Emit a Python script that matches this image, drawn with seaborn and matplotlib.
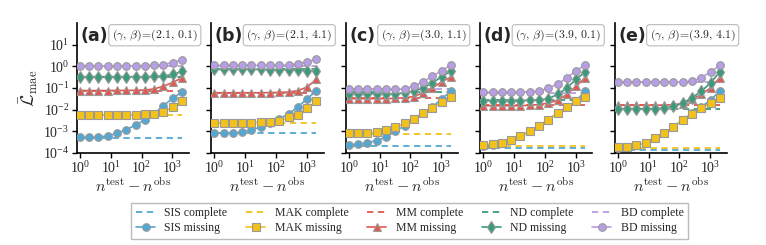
import numpy as np
import pandas as pd
import matplotlib
matplotlib.use('Agg')
import matplotlib.pyplot as plt
import seaborn as sns

sns.set_theme(style='ticks')
plt.rcParams['font.family'] = ['Liberation Serif', 'DejaVu Serif']
plt.rcParams['mathtext.fontset'] = 'cm'

# x: n_test - n_obs
n_diff = [1, 2, 4, 8, 16, 32, 64, 128, 256, 512, 1024, 2048]
panels = ['(a)', '(b)', '(c)', '(d)', '(e)']
params = ['(2.1,\\, 0.1)', '(2.1,\\, 4.1)', '(3.0,\\, 1.1)', '(3.9,\\, 0.1)', '(3.9,\\, 4.1)']
methods = ['SIS', 'MAK', 'MM', 'ND', 'BD']

# missing-edge results, one list per panel
sis_missing = [
    [0.00052, 0.00053, 0.00055, 0.0006, 0.0008, 0.0012, 0.0019, 0.0034, 0.0065, 0.015, 0.033, 0.066],
    [0.00082, 0.00082, 0.00083, 0.0009, 0.0012, 0.0015, 0.0024, 0.0038, 0.0063, 0.013, 0.032, 0.071],
    [0.00024, 0.00025, 0.0003, 0.00037, 0.00053, 0.001, 0.0018, 0.0037, 0.007, 0.013, 0.031, 0.07],
    [0.0002, 0.00022, 0.00028, 0.0004, 0.00058, 0.001, 0.0018, 0.0034, 0.007, 0.013, 0.026, 0.07],
    [0.00016, 0.00018, 0.00022, 0.0003, 0.00048, 0.0008, 0.0016, 0.0034, 0.0068, 0.013, 0.028, 0.07],
]
mak_missing = [
    [0.0055, 0.0055, 0.0055, 0.0055, 0.0055, 0.0056, 0.0057, 0.006, 0.0065, 0.008, 0.013, 0.026],
    [0.0024, 0.0024, 0.0024, 0.0024, 0.0025, 0.0026, 0.0027, 0.003, 0.0044, 0.0058, 0.012, 0.024],
    [0.0008, 0.0008, 0.00085, 0.0009, 0.0011, 0.0015, 0.0023, 0.0038, 0.0068, 0.012, 0.022, 0.038],
    [0.00024, 0.00026, 0.0003, 0.0004, 0.00058, 0.001, 0.0018, 0.0034, 0.007, 0.013, 0.024, 0.039],
    [0.00018, 0.00019, 0.00022, 0.0003, 0.00048, 0.0008, 0.0016, 0.0034, 0.0065, 0.012, 0.02, 0.035],
]
mm_missing = [
    [0.076, 0.076, 0.076, 0.076, 0.077, 0.077, 0.078, 0.08, 0.09, 0.12, 0.18, 0.29],
    [0.06, 0.06, 0.06, 0.06, 0.06, 0.06, 0.061, 0.062, 0.065, 0.075, 0.11, 0.25],
    [0.032, 0.032, 0.032, 0.032, 0.032, 0.033, 0.035, 0.04, 0.06, 0.1, 0.19, 0.32],
    [0.015, 0.015, 0.015, 0.015, 0.015, 0.016, 0.017, 0.02, 0.027, 0.05, 0.12, 0.3],
    [0.016, 0.016, 0.016, 0.016, 0.016, 0.016, 0.017, 0.019, 0.03, 0.05, 0.1, 0.3],
]
nd_missing = [
    [0.33, 0.33, 0.33, 0.33, 0.33, 0.33, 0.33, 0.33, 0.34, 0.36, 0.42, 0.58],
    [0.72, 0.72, 0.72, 0.72, 0.72, 0.72, 0.71, 0.7, 0.69, 0.66, 0.62, 0.58],
    [0.054, 0.054, 0.054, 0.054, 0.054, 0.055, 0.058, 0.07, 0.1, 0.17, 0.33, 0.6],
    [0.026, 0.026, 0.026, 0.026, 0.026, 0.027, 0.028, 0.032, 0.05, 0.1, 0.25, 0.55],
    [0.011, 0.011, 0.011, 0.011, 0.011, 0.012, 0.014, 0.02, 0.035, 0.07, 0.17, 0.55],
]
bd_missing = [
    [1.05, 1.05, 1.05, 1.05, 1.05, 1.05, 1.05, 1.06, 1.1, 1.2, 1.5, 2.0],
    [1.1, 1.1, 1.1, 1.1, 1.1, 1.1, 1.1, 1.1, 1.15, 1.3, 1.6, 2.1],
    [0.085, 0.085, 0.085, 0.085, 0.085, 0.086, 0.09, 0.12, 0.19, 0.35, 0.62, 1.15],
    [0.065, 0.065, 0.065, 0.065, 0.065, 0.066, 0.07, 0.1, 0.145, 0.3, 0.6, 1.2],
    [0.19, 0.19, 0.19, 0.19, 0.19, 0.19, 0.19, 0.19, 0.2, 0.3, 0.55, 1.1],
]
# complete-graph baselines, one value per panel
sis_complete = [0.0005, 0.00082, 0.0002, 0.00017, 0.00014]
mak_complete = [0.0055, 0.0024, 0.00077, 0.00021, 0.00016]
mm_complete = [0.076, 0.06, 0.034, 0.016, 0.016]
nd_complete = [0.32, 0.72, 0.062, 0.028, 0.011]
bd_complete = [1.0, 1.0, 0.09, 0.06, 0.19]

missing = [sis_missing, mak_missing, mm_missing, nd_missing, bd_missing]
complete = [sis_complete, mak_complete, mm_complete, nd_complete, bd_complete]
colors = ['#52a8d2', '#f2c21b', '#e2584f', '#3a9b7b', '#b89ee6']
markers = ['o', 's', '^', 'd', 'o']

fig, axes = plt.subplots(1, 5, figsize=(7.66, 2.45), dpi=100, sharey=True)
fig.subplots_adjust(left=0.1005, right=0.949, bottom=0.376, top=0.906, wspace=0.2)

for p, ax in enumerate(axes):
    for m in range(5):
        df = pd.DataFrame({'x': n_diff, 'y': [complete[m][p]] * len(n_diff)})
        sns.lineplot(data=df, x='x', y='y', ax=ax, color=colors[m], lw=1.3,
                     linestyle=(0, (3.5, 2.5)), zorder=2,
                     label=f'{methods[m]} complete' if p == 0 else None)
        df = pd.DataFrame({'x': n_diff, 'y': missing[m][p]})
        sns.lineplot(data=df, x='x', y='y', ax=ax, color=colors[m], lw=1.2,
                     marker=markers[m], markersize=5.5 if markers[m] != 'd' else 6.5,
                     markeredgecolor='#999999', markeredgewidth=0.8, zorder=3,
                     label=f'{methods[m]} missing' if p == 0 else None)
    ax.set_xscale('log')
    ax.set_yscale('log')
    ax.set_xlim(0.8, 3500)
    ax.set_ylim(1e-4, 1e2)
    ax.set_xticks([1, 10, 100, 1000])
    ax.set_yticks([1e-4, 1e-3, 1e-2, 1e-1, 1, 10])
    ax.minorticks_off()
    ax.tick_params(axis='both', labelsize=10, length=3.5, width=1, color='black',
                   direction='out', pad=2)
    for s in ['left', 'bottom']:
        ax.spines[s].set_linewidth(1.2)
        ax.spines[s].set_color('black')
    sns.despine(ax=ax)
    ax.set_xlabel(r'$n^{\mathrm{test}} - n^{\mathrm{obs}}$', fontsize=11.5, labelpad=1)
    ax.set_ylabel('')
    if ax.get_legend() is not None:
        ax.get_legend().remove()
    ax.text(0.03, 0.97, panels[p], transform=ax.transAxes, fontsize=12.5,
            fontweight='bold', family='DejaVu Sans', va='top', ha='left')
    ax.text(0.31, 0.965, r'$(\gamma,\, \beta)\!=\!' + params[p] + '$', transform=ax.transAxes,
            fontsize=8.5, va='top', ha='left',
            bbox=dict(boxstyle='round,pad=0.25', fc='white', ec='#bbbbbb', lw=0.8))

axes[0].set_ylabel(r'$\bar{\mathcal{L}}_{\mathrm{mae}}$', fontsize=13, labelpad=2)

handles, labels = axes[0].get_legend_handles_labels()
fig.legend(handles, labels, loc='lower center', bbox_to_anchor=(0.535, 0.0), ncol=5,
           fontsize=8.5, frameon=True, fancybox=False, edgecolor='#aaaaaa',
           handlelength=1.6, handletextpad=0.8, columnspacing=1.6,
           labelspacing=0.25, borderpad=0.4)

fig.savefig('out.png', dpi=100)
